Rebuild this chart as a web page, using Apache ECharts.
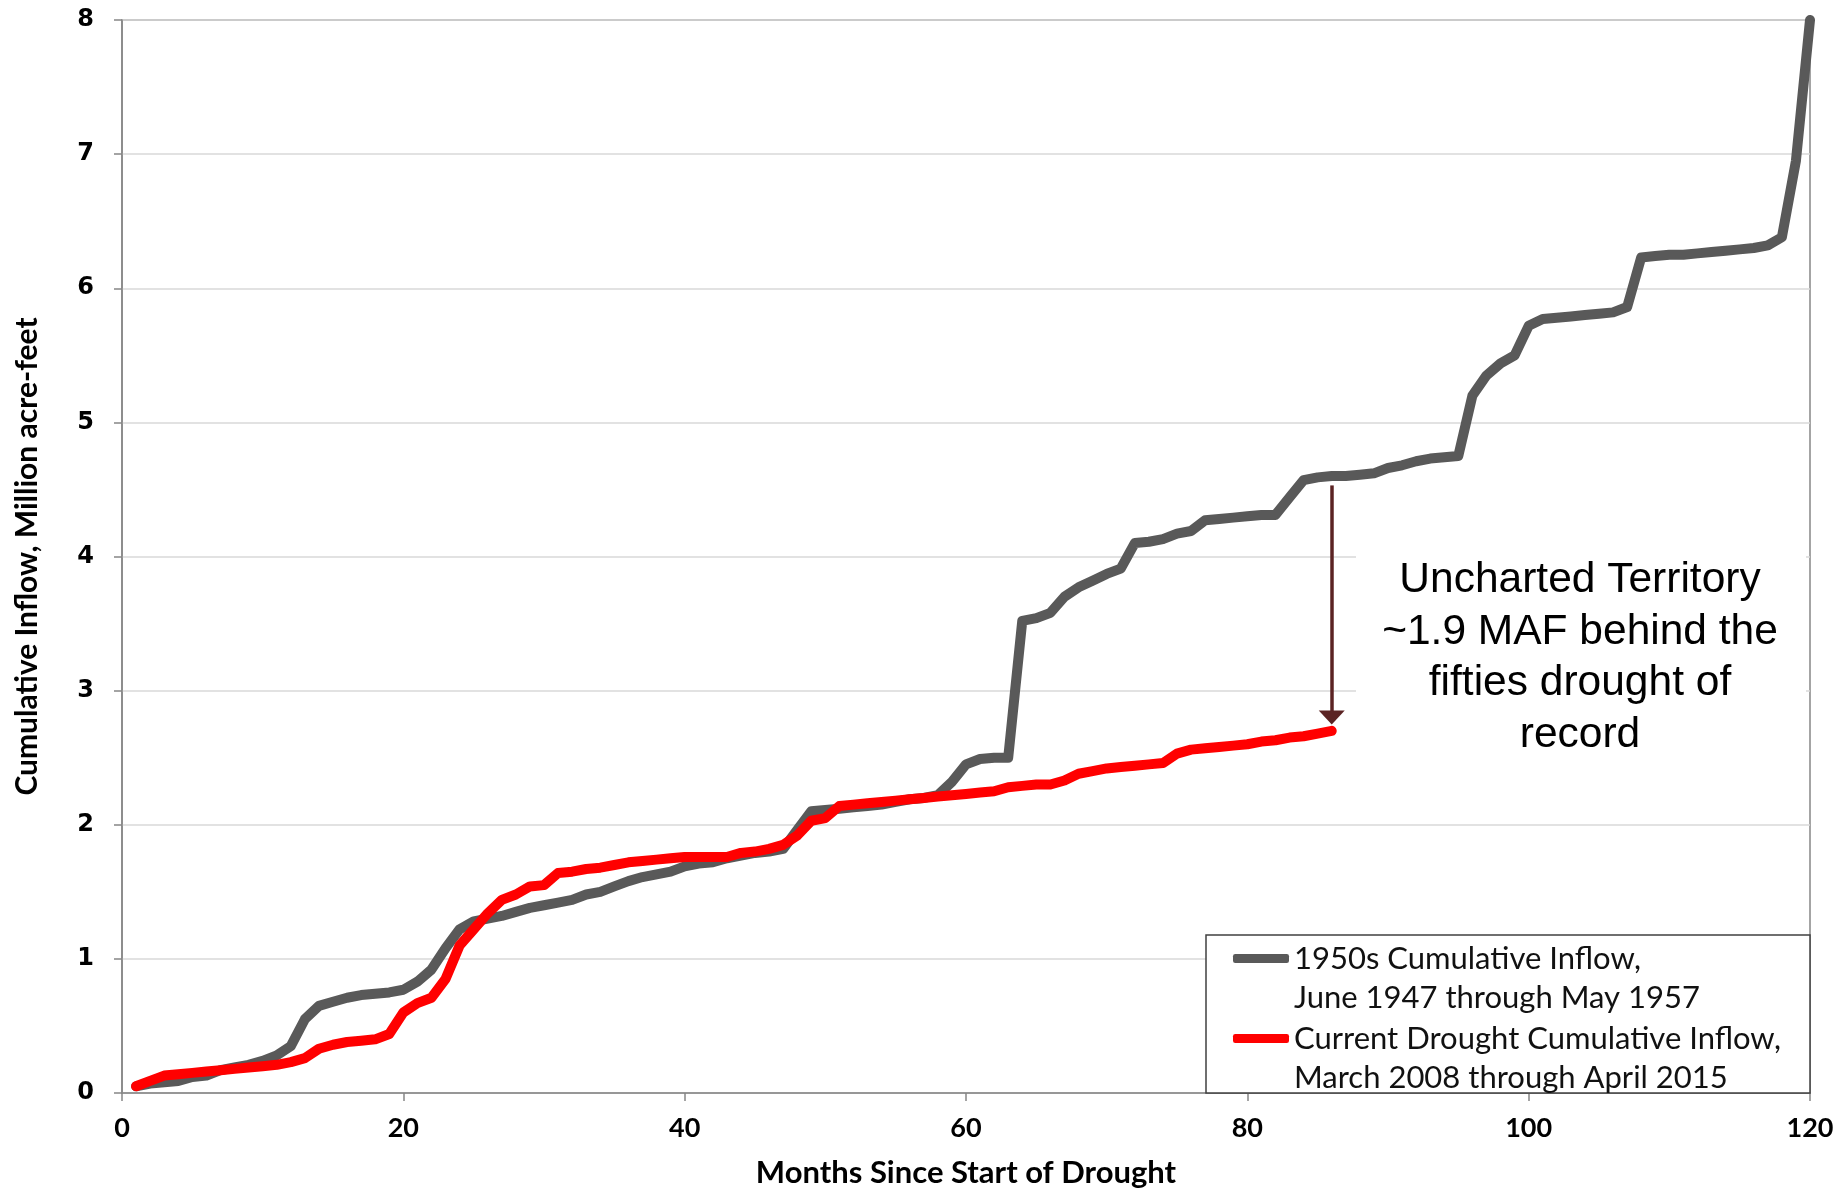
<!DOCTYPE html>
<html><head><meta charset="utf-8">
<script src="https://cdn.jsdelivr.net/npm/echarts@6/dist/echarts.min.js"></script>
<style>html,body{margin:0;padding:0;background:#fff}#c{width:1845px;height:1196px}</style>
</head><body><div id="c"></div>
<script>
const xTickInterval = 20;
const yTickInterval = 1;
const xName = 'Months Since Start of Drought';
const yName = 'Cumulative Inflow, Million acre-feet';
const fiftiesName = '1950s Cumulative Inflow,\nJune 1947 through May 1957';
const currentName = 'Current Drought Cumulative Inflow,\nMarch 2008 through April 2015';

const fiftiesInflow = [
  0.05,0.07,0.08,0.09,0.12,0.13,0.17,0.19,0.21,0.24,
  0.28,0.35,0.55,0.65,0.68,0.71,0.73,0.74,0.75,0.77,
  0.83,0.92,1.08,1.22,1.28,1.30,1.32,1.35,1.38,1.40,
  1.42,1.44,1.48,1.50,1.54,1.58,1.61,1.63,1.65,1.69,
  1.71,1.72,1.75,1.77,1.79,1.80,1.82,1.96,2.10,2.11,
  2.12,2.13,2.14,2.15,2.17,2.19,2.20,2.22,2.32,2.45,
  2.49,2.50,2.50,3.52,3.54,3.58,3.70,3.77,3.82,3.87,
  3.91,4.10,4.11,4.13,4.17,4.19,4.27,4.28,4.29,4.30,
  4.31,4.31,4.44,4.57,4.59,4.60,4.60,4.61,4.62,4.66,
  4.68,4.71,4.73,4.74,4.75,5.20,5.35,5.44,5.50,5.72,
  5.77,5.78,5.79,5.80,5.81,5.82,5.86,6.23,6.24,6.25,
  6.25,6.26,6.27,6.28,6.29,6.30,6.32,6.38,6.95,8.00
];
const currentInflow = [
  0.05,0.09,0.13,0.14,0.15,0.16,0.17,0.18,0.19,0.20,
  0.21,0.23,0.26,0.33,0.36,0.38,0.39,0.40,0.44,0.60,
  0.67,0.71,0.85,1.10,1.22,1.34,1.44,1.48,1.54,1.55,
  1.64,1.65,1.67,1.68,1.70,1.72,1.73,1.74,1.75,1.76,
  1.76,1.76,1.76,1.79,1.80,1.82,1.85,1.92,2.03,2.05,
  2.14,2.15,2.16,2.17,2.18,2.19,2.20,2.21,2.22,2.23,
  2.24,2.25,2.28,2.29,2.30,2.30,2.33,2.38,2.40,2.42,
  2.43,2.44,2.45,2.46,2.53,2.56,2.57,2.58,2.59,2.60,
  2.62,2.63,2.65,2.66,2.68,2.70
];
const gapMonth = 86;
const gapTop = 4.53;
const gapBottom = 2.80;
const annotationLines = ['Uncharted Territory', '~1.9 MAF behind the', 'fifties drought of', 'record'];

const chart = echarts.init(document.getElementById('c'), null, {renderer: 'canvas'});
const axisGray = '#868686';
const labelFont = {color: '#000', fontFamily: 'Lato', fontWeight: 'bold'};

chart.setOption({
  animation: false,
  backgroundColor: '#fff',
  grid: {left: 122, right: 35, top: 20, bottom: 103, show: true, borderColor: axisGray, borderWidth: 1.5, backgroundColor: 'transparent'},
  xAxis: {
    type: 'value', min: 0, max: 120, interval: xTickInterval,
    axisLine: {show: true, onZero: false, lineStyle: {color: axisGray, width: 1.5}},
    axisTick: {show: true, length: 8, lineStyle: {color: axisGray, width: 1.5}},
    axisLabel: Object.assign({margin: 22, fontSize: 27}, labelFont),
    splitLine: {show: false},
    name: xName, nameLocation: 'middle', nameGap: 64,
    nameTextStyle: Object.assign({fontSize: 31}, labelFont)
  },
  yAxis: {
    type: 'value', min: 0, max: 8, interval: yTickInterval,
    axisLine: {show: true, lineStyle: {color: axisGray, width: 1.5}},
    axisTick: {show: true, length: 8, lineStyle: {color: axisGray, width: 1.5}},
    axisLabel: {margin: 28, fontSize: 24, color: '#000', fontFamily: 'DejaVu Sans', fontWeight: 'bold'},
    splitLine: {show: true, lineStyle: {color: '#d9d9d9', width: 1.5}},
    name: yName, nameLocation: 'middle', nameGap: 80,
    nameTextStyle: Object.assign({fontSize: 30}, labelFont)
  },
  legend: {
    left: 1233, top: 900, padding: 0, orient: 'vertical', itemGap: -37,
    icon: 'roundRect', itemWidth: 56, itemHeight: 9, selectedMode: false,
    formatter: name => '\n' + name,
    textStyle: {fontFamily: 'Lato', fontSize: 31, color: '#111', lineHeight: 39},
    data: [fiftiesName, currentName]
  },
  graphic: [
    {type: 'rect', z: 1, shape: {x: 1206, y: 935, width: 604, height: 158}, style: {fill: '#fff', stroke: '#404040', lineWidth: 1.5}},
    {type: 'rect', z: 1, shape: {x: 1356, y: 482, width: 450, height: 283}, style: {fill: '#fff'}},
    {type: 'text', z: 10, x: 1580, y: 658, style: {text: annotationLines.join('\n'), align: 'center', verticalAlign: 'middle', font: '42.5px "Liberation Sans"', lineHeight: 51.5, fill: '#000'}}
  ],
  series: [
    {
      name: fiftiesName, type: 'line', z: 3, showSymbol: false, symbol: 'none', silent: true,
      data: fiftiesInflow.map((v, i) => [i + 1, v]),
      lineStyle: {color: '#595959', width: 10, join: 'round', cap: 'round'},
      itemStyle: {color: '#595959'}
    },
    {
      name: currentName, type: 'line', z: 4, showSymbol: false, symbol: 'none', silent: true,
      data: currentInflow.map((v, i) => [i + 1, v]),
      lineStyle: {color: '#ff0000', width: 10, join: 'round', cap: 'round'},
      itemStyle: {color: '#ff0000'},
      markLine: {
        silent: true, symbol: ['none', 'triangle'], symbolSize: [26, 14],
        label: {show: false},
        lineStyle: {color: '#5b2323', width: 3.5, type: 'solid'},
        emphasis: {disabled: true},
        data: [[{coord: [gapMonth, gapTop]}, {coord: [gapMonth, gapBottom]}]]
      }
    }
  ]
});
</script></body></html>
